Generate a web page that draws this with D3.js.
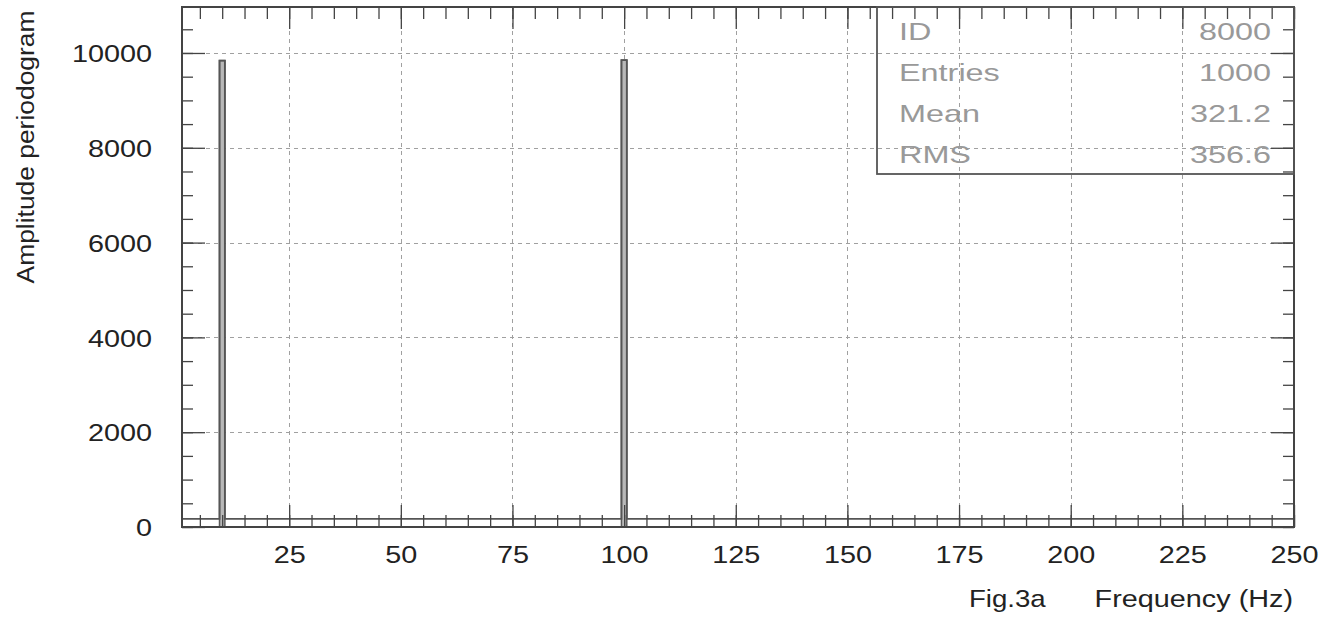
<!DOCTYPE html>
<html>
<head>
<meta charset="utf-8">
<script src="https://cdn.jsdelivr.net/npm/d3@7"></script>
<style>
  html, body { margin: 0; padding: 0; background: #fff; }
  svg { display: block; font-family: "Liberation Sans", Arial, Helvetica, sans-serif; }
</style>
</head>
<body>
<svg id="chart" width="1325" height="617"></svg>
<script>
// Periodogram peaks (bin centre in Hz, amplitude)
const peakFreqs = [10, 100];
const peakAmps = [9840, 9850];
// Level of all other bins
const floorLevel = 170;
const binWidth = 1.2;

// Axis ticks
const xMajorTicks = [25, 50, 75, 100, 125, 150, 175, 200, 225, 250];
const xMinorTicks = d3.range(5, 251, 5);
const yMajorTicks = [0, 2000, 4000, 6000, 8000, 10000];
const yMinorTicks = d3.range(0, 10501, 500);

// Statistics box
const statLabels = ["ID", "Entries", "Mean", "RMS"];
const statValues = ["8000", "1000", "321.2", "356.6"];

const margin = { left: 182, right: 1294, top: 7, bottom: 527 };
const svg = d3.select("#chart");

const x = d3.scaleLinear().domain([1, 250]).range([margin.left, margin.right]);
const y = d3.scaleLinear().domain([0, 10970]).range([margin.bottom, margin.top]);

const axisColor = "#444";
const textScale = 1.2;

// Dashed grid at major ticks
const grid = svg.append("g").attr("stroke", "#a0a0a0").attr("stroke-width", 1)
  .attr("stroke-dasharray", "4,4");
grid.selectAll("line.gx").data(xMajorTicks.filter(d => d < 250)).join("line")
  .attr("class", "gx")
  .attr("x1", d => Math.round(x(d)) + 0.5).attr("x2", d => Math.round(x(d)) + 0.5)
  .attr("y1", margin.top).attr("y2", margin.bottom);
grid.selectAll("line.gy").data(yMajorTicks.filter(d => d > 0)).join("line")
  .attr("class", "gy")
  .attr("y1", d => Math.round(y(d)) + 0.5).attr("y2", d => Math.round(y(d)) + 0.5)
  .attr("x1", margin.left).attr("x2", margin.right);

// Histogram bars for the peaks
const peaks = peakFreqs.map((f, i) => ({ f, a: peakAmps[i] }));
svg.append("g").selectAll("rect").data(peaks).join("rect")
  .attr("x", d => x(d.f - binWidth / 2))
  .attr("width", d => x(d.f + binWidth / 2) - x(d.f - binWidth / 2))
  .attr("y", d => y(d.a))
  .attr("height", d => y(0) - y(d.a))
  .attr("fill", "#b8b8b8")
  .attr("stroke", "#5a5a5a")
  .attr("stroke-width", 1.5);

// Histogram outline (step line over all bins)
const outline = [[1, floorLevel]];
peaks.forEach(p => {
  outline.push([p.f - binWidth / 2, floorLevel]);
  outline.push([p.f - binWidth / 2, p.a]);
  outline.push([p.f + binWidth / 2, p.a]);
  outline.push([p.f + binWidth / 2, floorLevel]);
});
outline.push([250, floorLevel]);
svg.append("path")
  .attr("d", d3.line().x(d => x(d[0])).y(d => y(d[1]))(outline))
  .attr("fill", "none").attr("stroke", "#555").attr("stroke-width", 1.8);

// Axes: ticks on all four sides pointing inward
function styleAxis(g) {
  g.select(".domain").remove();
  g.selectAll(".tick line").attr("stroke", axisColor).attr("stroke-width", 1.3);
}
svg.append("g").attr("transform", `translate(0,${margin.bottom})`)
  .call(d3.axisBottom(x).tickValues(xMinorTicks).tickSize(-12).tickFormat(""))
  .call(styleAxis);
const xb = svg.append("g").attr("transform", `translate(0,${margin.bottom})`)
  .call(d3.axisBottom(x).tickValues(xMajorTicks).tickSize(-22).tickPadding(19).tickFormat(d3.format("d")))
  .call(styleAxis);
xb.selectAll("text").attr("font-size", 24).attr("fill", "#222")
  .attr("font-family", "Liberation Sans, Arial, sans-serif")
  .attr("transform", `scale(${textScale},1)`);

svg.append("g").attr("transform", `translate(0,${margin.top})`)
  .call(d3.axisTop(x).tickValues(xMinorTicks).tickSize(-12).tickFormat(""))
  .call(styleAxis);
svg.append("g").attr("transform", `translate(0,${margin.top})`)
  .call(d3.axisTop(x).tickValues(xMajorTicks).tickSize(-22).tickFormat(""))
  .call(styleAxis);

svg.append("g").attr("transform", `translate(${margin.left},0)`)
  .call(d3.axisLeft(y).tickValues(yMinorTicks).tickSize(-11).tickFormat(""))
  .call(styleAxis);
const yl = svg.append("g").attr("transform", `translate(${margin.left},0)`)
  .call(d3.axisLeft(y).tickValues(yMajorTicks).tickSize(-23).tickFormat(d3.format("d")))
  .call(styleAxis);
yl.selectAll("text").attr("font-size", 24).attr("fill", "#222")
  .attr("font-family", "Liberation Sans, Arial, sans-serif")
  .attr("x", -30 / textScale).attr("dy", "0.36em")
  .attr("transform", `scale(${textScale},1)`);

svg.append("g").attr("transform", `translate(${margin.right},0)`)
  .call(d3.axisRight(y).tickValues(yMinorTicks).tickSize(-11).tickFormat(""))
  .call(styleAxis);
svg.append("g").attr("transform", `translate(${margin.right},0)`)
  .call(d3.axisRight(y).tickValues(yMajorTicks).tickSize(-23).tickFormat(""))
  .call(styleAxis);

// Frame
svg.append("rect")
  .attr("x", margin.left).attr("y", margin.top)
  .attr("width", margin.right - margin.left).attr("height", margin.bottom - margin.top)
  .attr("fill", "none").attr("stroke", axisColor).attr("stroke-width", 2);

// Statistics box (transparent)
const box = { x0: 877, y0: 7, x1: 1294, y1: 174 };
svg.append("rect")
  .attr("x", box.x0).attr("y", box.y0)
  .attr("width", box.x1 - box.x0).attr("height", box.y1 - box.y0)
  .attr("fill", "none").attr("stroke", "#555").attr("stroke-width", 1.8);
const statScale = 1.35;
const rowY = i => 40 + i * 41;
const stats = svg.append("g").attr("font-size", 24).attr("fill", "#999");
stats.selectAll("text.lab").data(statLabels).join("text")
  .attr("class", "lab")
  .attr("transform", (d, i) => `translate(899,${rowY(i)}) scale(${statScale},1)`)
  .text(d => d);
stats.selectAll("text.val").data(statValues).join("text")
  .attr("class", "val")
  .attr("text-anchor", "end")
  .attr("transform", (d, i) => `translate(1271,${rowY(i)}) scale(${statScale},1)`)
  .text(d => d);

// Axis titles
svg.append("text")
  .attr("transform", `translate(34,147) rotate(-90) scale(1.1,1)`)
  .attr("text-anchor", "middle")
  .attr("font-size", 24).attr("fill", "#222")
  .text("Amplitude periodogram");
svg.append("text")
  .attr("transform", `translate(1293,607) scale(${textScale},1)`)
  .attr("text-anchor", "end")
  .attr("font-size", 24).attr("fill", "#222")
  .text("Frequency (Hz)");
svg.append("text")
  .attr("transform", `translate(969,607) scale(1.15,1)`)
  .attr("font-size", 24).attr("fill", "#222")
  .text("Fig.3a");
</script>
</body>
</html>
